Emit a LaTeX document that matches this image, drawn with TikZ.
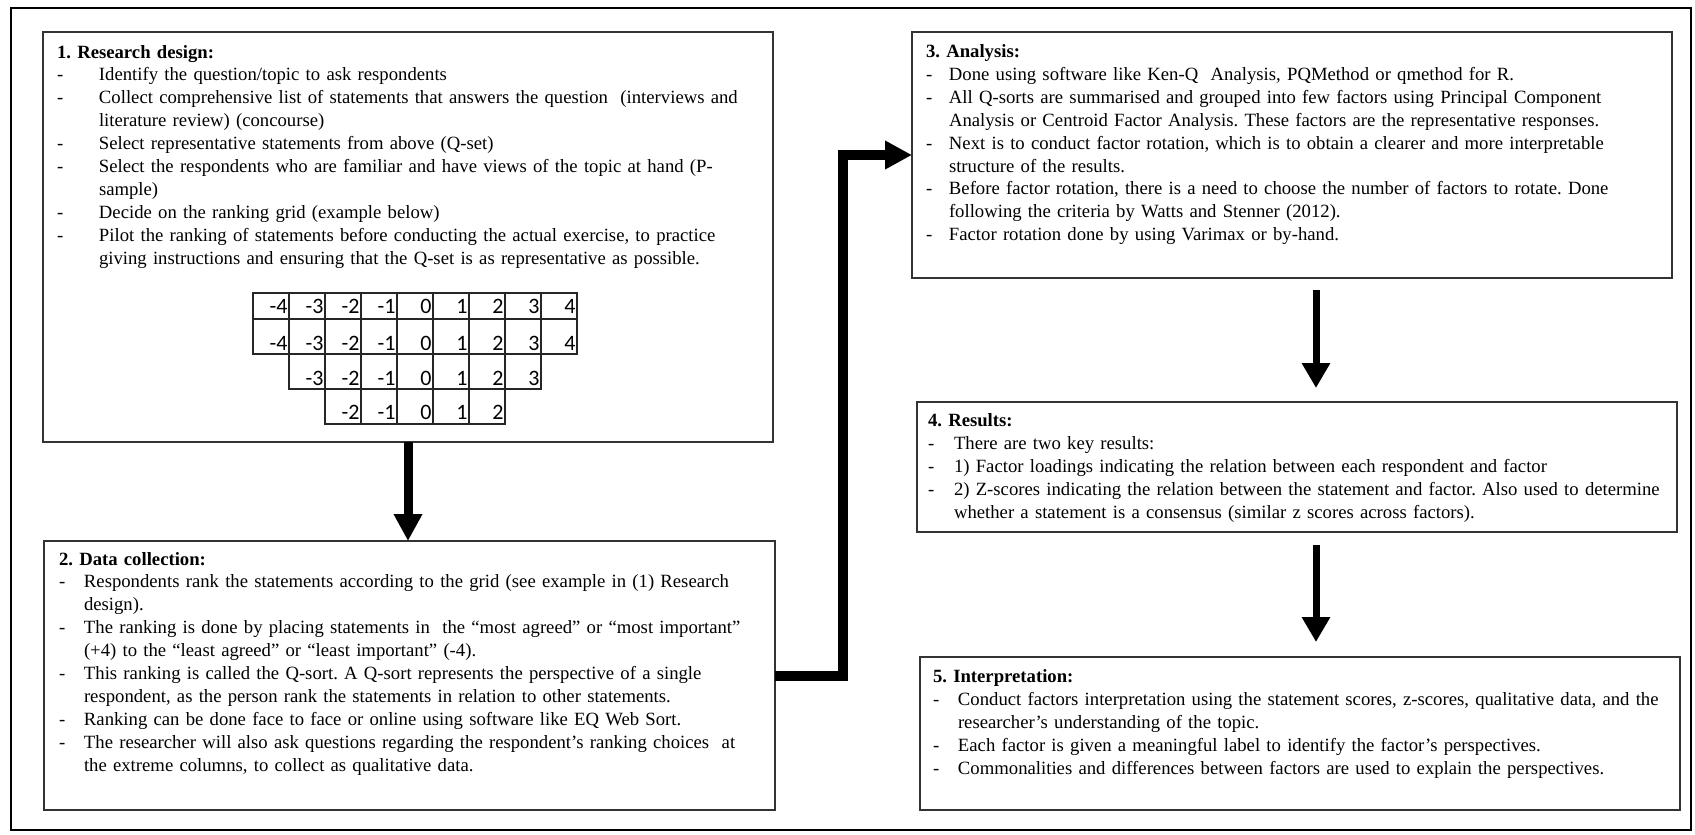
\documentclass[tikz,border=0pt]{standalone}
\usepackage{fontspec}
\setmainfont{Liberation Serif}
\newfontfamily\gridfont{Carlito}
\usetikzlibrary{arrows.meta}
\newcommand{\dashitem}[2]{\par\hangindent=#1\hangafter=1\noindent\makebox[#1][l]{-}#2}
\tikzset{
  outerframe/.style={draw=black, line width=1.8pt},
  stepbox/.style={draw=black!80, line width=1.4pt, inner sep=0pt, outer sep=0pt, anchor=north west},
  boxtext/.style={anchor=north west, inner sep=0pt, outer sep=0pt, text width=#1,
    font=\fontsize{18.7}{22.9}\selectfont,
    execute at begin node={\raggedright\frenchspacing\hyphenpenalty=10000\exhyphenpenalty=10000\parindent=0pt\parskip=0pt}},
  gridcell/.style={draw=black!85, line width=1.2pt},
  gridnum/.style={anchor=base east, inner sep=0pt, outer sep=0pt, font=\gridfont\fontsize{22}{24}\selectfont},
  downarrow/.style={line width=7pt, -{Triangle[length=25pt,width=27pt]}},
  firstarrow/.style={line width=9pt, -{Triangle[length=27pt,width=27pt]}},
  elbowarrow/.style={line width=10pt, line join=miter, -{Triangle[length=27pt,width=27pt]}},
}
\begin{document}
\begin{tikzpicture}[x=1pt,y=-1pt]
\useasboundingbox (0,0) rectangle (1695,835);
\draw[outerframe] (11,8) rectangle (1691,830);

% boxes
\node[stepbox, minimum width=730pt, minimum height=410pt] (b1) at (43,32) {};
\node[stepbox, minimum width=731pt, minimum height=269pt] (b2) at (44,541) {};
\node[stepbox, minimum width=760pt, minimum height=246pt] (b3) at (912,32) {};
\node[stepbox, minimum width=760pt, minimum height=130pt] (b4) at (917,402) {};
\node[stepbox, minimum width=760pt, minimum height=153pt] (b5) at (920,657) {};

% texts
\node[boxtext=712pt] (t1) at (57,42) {\strut\textbf{1. Research design:}
\dashitem{42pt}{Identify the question/topic to ask respondents}
\dashitem{42pt}{Collect comprehensive list of statements that answers the question\ \ (interviews and\newline literature review) (concourse)}
\dashitem{42pt}{Select representative statements from above (Q-set)}
\dashitem{42pt}{Select the respondents who are familiar and have views of the topic at hand (P-\newline sample)}
\dashitem{42pt}{Decide on the ranking grid (example below)}
\dashitem{42pt}{Pilot the ranking of statements before conducting the actual exercise, to practice\newline giving instructions and ensuring that the Q-set is as representative as possible.}\par};

\node[boxtext=712pt] (t2) at (59,549) {\strut\textbf{2. Data collection:}
\dashitem{25pt}{Respondents rank the statements according to the grid (see example in (1) Research\newline design).}
\dashitem{25pt}{The ranking is done by placing statements in\ \ the “most agreed” or “most important”\newline (+4) to the “least agreed” or “least important” (-4).}
\dashitem{25pt}{This ranking is called the Q-sort. A Q-sort represents the perspective of a single\newline respondent, as the person rank the statements in relation to other statements.}
\dashitem{25pt}{Ranking can be done face to face or online using software like EQ Web Sort.}
\dashitem{25pt}{The researcher will also ask questions regarding the respondent’s ranking choices\ \ at\newline the extreme columns, to collect as qualitative data.}\par};

\node[boxtext=742pt] (t3) at (926,41.5) {\strut\textbf{3. Analysis:}
\dashitem{23pt}{Done using software like Ken-Q\ \ Analysis, PQMethod or qmethod for R.}
\dashitem{23pt}{All Q-sorts are summarised and grouped into few factors using Principal Component\newline Analysis or Centroid Factor Analysis. These factors are the representative responses.}
\dashitem{23pt}{Next is to conduct factor rotation, which is to obtain a clearer and more interpretable\newline structure of the results.}
\dashitem{23pt}{Before factor rotation, there is a need to choose the number of factors to rotate. Done\newline following the criteria by Watts and Stenner (2012).}
\dashitem{23pt}{Factor rotation done by using Varimax or by-hand.}\par};

\node[boxtext=745pt] (t4) at (928,410.7) {\strut\textbf{4. Results:}
\dashitem{26pt}{There are two key results:}
\dashitem{26pt}{1) Factor loadings indicating the relation between each respondent and factor}
\dashitem{26pt}{2) Z-scores indicating the relation between the statement and factor. Also used to determine\newline whether a statement is a consensus (similar z scores across factors).}\par};

\node[boxtext=743pt] (t5) at (933,666.7) {\strut\textbf{5. Interpretation:}
\dashitem{25pt}{Conduct factors interpretation using the statement scores, z-scores, qualitative data, and the\newline researcher’s understanding of the topic.}
\dashitem{25pt}{Each factor is given a meaningful label to identify the factor’s perspectives.}
\dashitem{25pt}{Commonalities and differences between factors are used to explain the perspectives.}\par};

% ranking grid
\foreach \i in {0,...,8}{
  \pgfmathtruncatemacro{\v}{\i-4}
  \draw[gridcell] ({253+36*\i},293) rectangle ({289+36*\i},319);
  \node[gridnum] (ra\i) at ({287.5+36*\i},313) {\v};
  \draw[gridcell] ({253+36*\i},319) rectangle ({289+36*\i},354);
  \node[gridnum] (rb\i) at ({287.5+36*\i},350) {\v};
}
\foreach \i in {1,...,7}{
  \pgfmathtruncatemacro{\v}{\i-4}
  \draw[gridcell] ({253+36*\i},354) rectangle ({289+36*\i},389);
  \node[gridnum] (rc\i) at ({287.5+36*\i},385) {\v};
}
\foreach \i in {2,...,6}{
  \pgfmathtruncatemacro{\v}{\i-4}
  \draw[gridcell] ({253+36*\i},389) rectangle ({289+36*\i},424);
  \node[gridnum] (rd\i) at ({287.5+36*\i},419.5) {\v};
}

% connectors
\draw[firstarrow] (b1.south) -- (b1.south |- b2.north);
\coordinate (bend) at (843,0);
\draw[elbowarrow] (b2.east) -| (bend |- b3.west) -- (b3.west);
\coordinate (ax) at (1316,0);
\draw[downarrow, shorten <=12pt, shorten >=14pt] (b3.south -| ax) -- (b4.north -| ax);
\draw[downarrow, shorten <=13pt, shorten >=15pt] (b4.south -| ax) -- (b5.north -| ax);
\end{tikzpicture}
\end{document}
